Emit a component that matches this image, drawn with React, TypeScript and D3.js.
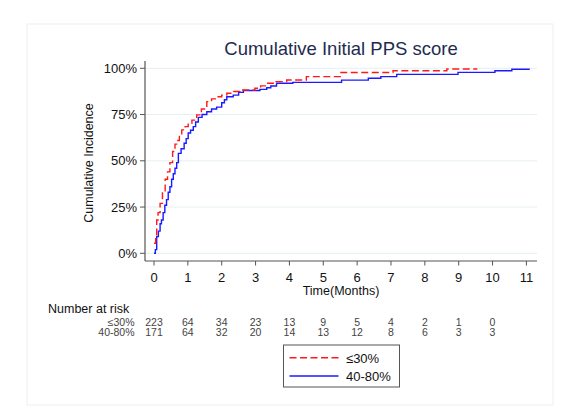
import { useMemo } from "react";
import * as d3 from "d3";

const monthTicks = [0, 1, 2, 3, 4, 5, 6, 7, 8, 9, 10, 11];
const pctTicks = [0, 0.25, 0.5, 0.75, 1];

// ≤30% group (red dashed)
const lowTimes = [0, 0.05, 0.08, 0.12, 0.18, 0.25, 0.33, 0.4, 0.47, 0.55, 0.62, 0.67, 0.75, 0.82, 0.92, 1.01, 1.12, 1.26, 1.4, 1.56, 1.7, 1.85, 2.0, 2.15, 2.35, 2.54, 2.98, 3.15, 3.33, 3.6, 3.92, 4.5, 5.5, 7.06, 8.65, 9.55];
const lowCif = [0.054, 0.1, 0.18, 0.22, 0.27, 0.33, 0.4, 0.44, 0.49, 0.55, 0.59, 0.61, 0.64, 0.667, 0.685, 0.703, 0.72, 0.748, 0.78, 0.82, 0.835, 0.846, 0.855, 0.865, 0.875, 0.883, 0.892, 0.905, 0.919, 0.928, 0.937, 0.955, 0.977, 0.987, 0.996, 0.996];

// 40-80% group (blue solid)
const highTimes = [0, 0.04, 0.08, 0.13, 0.18, 0.22, 0.27, 0.32, 0.37, 0.42, 0.47, 0.52, 0.57, 0.62, 0.67, 0.72, 0.8, 0.89, 0.95, 1.01, 1.08, 1.16, 1.23, 1.31, 1.42, 1.56, 1.7, 1.85, 2.0, 2.08, 2.15, 2.34, 2.5, 2.64, 3.13, 3.33, 3.45, 3.62, 4.1, 5.54, 6.33, 6.7, 7.17, 8.98, 10.07, 10.57, 11.1];
const highCif = [0.0, 0.02, 0.09, 0.12, 0.16, 0.18, 0.22, 0.26, 0.29, 0.33, 0.36, 0.4, 0.43, 0.46, 0.49, 0.54, 0.565, 0.595, 0.62, 0.65, 0.665, 0.685, 0.71, 0.735, 0.75, 0.765, 0.78, 0.79, 0.814, 0.83, 0.846, 0.855, 0.87, 0.88, 0.886, 0.895, 0.904, 0.919, 0.924, 0.936, 0.946, 0.955, 0.967, 0.978, 0.987, 0.995, 0.995];

const riskLabels = ["≤30%", "40-80%"];
const riskLow = [223, 64, 34, 23, 13, 9, 5, 4, 2, 1, 0];
const riskHigh = [171, 64, 32, 20, 14, 13, 12, 8, 6, 3, 3];

const FONT = "'Liberation Sans', Arial, sans-serif";
const RED = "#ff1a1a";
const BLUE = "#1a1aff";

export default function App() {
  const x = d3.scaleLinear().domain([0, 11]).range([154, 526.4]);
  const y = d3.scaleLinear().domain([0, 1]).range([253.3, 68.3]);

  const line = d3
    .line<[number, number]>()
    .x((d) => x(d[0]))
    .y((d) => y(d[1]))
    .curve(d3.curveStepAfter);

  const lowPath = useMemo(
    () => line(lowTimes.map((t, i) => [t, lowCif[i]] as [number, number])),
    []
  );
  const highPath = useMemo(
    () => line(highTimes.map((t, i) => [t, highCif[i]] as [number, number])),
    []
  );

  const fmt = d3.format(".0%");
  const axisColor = "#555";

  return (
    <svg
      width={569}
      height={419}
      style={{ position: "absolute", left: 0, top: 0, background: "#fff" }}
      fontFamily={FONT}
    >
      <rect x={27} y={24} width={526} height={381} fill="#fff" stroke="#eeeeee" />

      <text x={341} y={54.5} textAnchor="middle" fontSize={18.5} fill="#1e2b4f">
        Cumulative Initial PPS score
      </text>

      {/* gridlines */}
      {pctTicks.map((p) => (
        <line key={p} x1={146} x2={537} y1={y(p)} y2={y(p)} stroke="#e6eff0" strokeWidth={1} />
      ))}

      {/* y axis */}
      <line x1={145} x2={145} y1={61} y2={261} stroke={axisColor} strokeWidth={1.2} />
      {pctTicks.map((p) => (
        <g key={p}>
          <line x1={140} x2={145} y1={y(p)} y2={y(p)} stroke={axisColor} />
          <text x={137} y={y(p) + 4.5} textAnchor="end" fontSize={13} fill="#111">
            {fmt(p)}
          </text>
        </g>
      ))}
      <text
        transform="translate(93,163) rotate(-90)"
        textAnchor="middle"
        fontSize={12.5}
        fill="#111"
      >
        Cumulative Incidence
      </text>

      {/* x axis */}
      <line x1={145} x2={537} y1={261} y2={261} stroke={axisColor} strokeWidth={1.2} />
      {monthTicks.map((m) => (
        <g key={m}>
          <line x1={x(m)} x2={x(m)} y1={261} y2={265.5} stroke={axisColor} />
          <text x={x(m)} y={282} textAnchor="middle" fontSize={13} fill="#111">
            {m}
          </text>
        </g>
      ))}
      <text x={341} y={295} textAnchor="middle" fontSize={12.5} fill="#111">
        Time(Months)
      </text>

      {/* curves */}
      <path d={highPath ?? ""} fill="none" stroke={BLUE} strokeWidth={1.4} />
      <path d={lowPath ?? ""} fill="none" stroke={RED} strokeWidth={1.4} strokeDasharray="7,3.5" />

      {/* number at risk */}
      <text x={48} y={312.5} fontSize={12.5} fill="#111">
        Number at risk
      </text>
      {[riskLow, riskHigh].map((row, r) => (
        <g key={r} fontSize={10.5} fill="#444">
          <text x={134.5} y={325.5 + r * 10.7} textAnchor="end">
            {riskLabels[r]}
          </text>
          {row.map((n, i) => (
            <text key={i} x={x(i)} y={325.5 + r * 10.7} textAnchor="middle">
              {n}
            </text>
          ))}
        </g>
      ))}

      {/* legend */}
      <rect x={283.5} y={345} width={116} height={42} fill="#fff" stroke="#555" strokeWidth={1} />
      <line x1={289.5} x2={338.5} y1={357.7} y2={357.7} stroke={RED} strokeWidth={1.4} strokeDasharray="7,3.5" />
      <line x1={289.5} x2={338.5} y1={376} y2={376} stroke={BLUE} strokeWidth={1.4} />
      <text x={346} y={362.5} fontSize={13} fill="#111">
        {riskLabels[0]}
      </text>
      <text x={346} y={381} fontSize={13} fill="#111">
        {riskLabels[1]}
      </text>
    </svg>
  );
}
